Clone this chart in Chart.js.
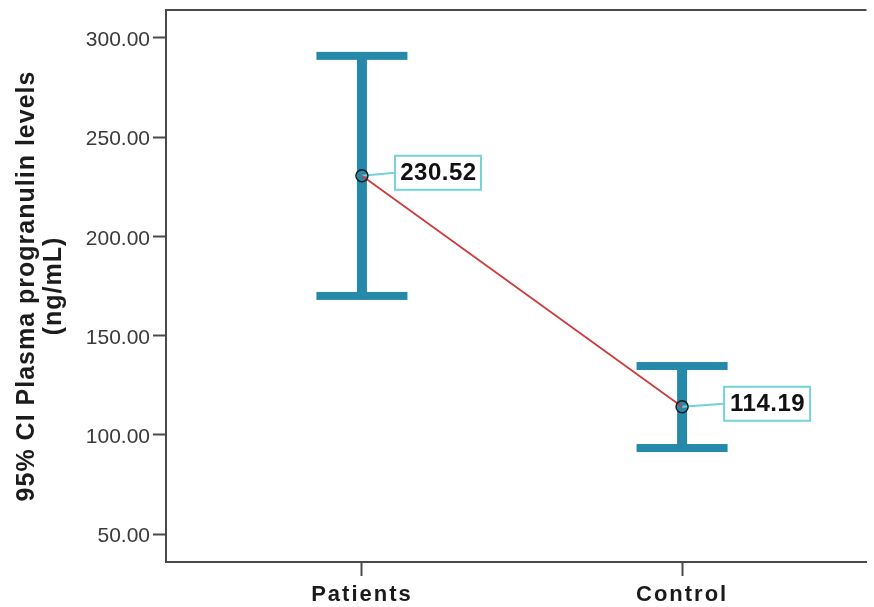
<!DOCTYPE html>
<html><head><meta charset="utf-8">
<script src="https://cdn.jsdelivr.net/npm/chart.js@4.4.1/dist/chart.umd.min.js"></script>
<style>html,body{margin:0;padding:0;background:#fff;}canvas{display:block;}</style>
</head><body>
<canvas id="c" width="874" height="607"></canvas>
<script>
// ---- data ----
const categories = ['Patients', 'Control'];
const categoryPositions = [1, 2];
const means = [230.52, 114.19];
const ciLower = [170.0, 93.4];
const ciUpper = [290.9, 134.7];
const meanLabels = ['230.52', '114.19'];
const yTickValues = [50, 100, 150, 200, 250, 300];
const yAxisTitle = ['95% CI Plasma progranulin levels', '(ng/mL)'];

// ---- style ----
const FONT = '"Liberation Sans", Arial, Helvetica, sans-serif';
const BAR_COLOR = '#2689a9';
const LINE_COLOR = '#cc3b3d';
const AXIS_COLOR = '#4a4a4a';
const LABEL_BORDER = '#74d3d9';
const labelGapPx = [33, 42];

const errorBarPlugin = {
  id: 'errorBars',
  beforeDatasetsDraw(chart) {
    const {ctx, scales: {x, y}, chartArea} = chart;
    ctx.save();
    // top frame line
    ctx.strokeStyle = AXIS_COLOR; ctx.lineWidth = 2;
    ctx.beginPath(); ctx.moveTo(chartArea.left, chartArea.top); ctx.lineTo(chartArea.right, chartArea.top); ctx.stroke();
    ctx.fillStyle = BAR_COLOR;
    categoryPositions.forEach((pos, i) => {
      const px = x.getPixelForValue(pos);
      const top = y.getPixelForValue(ciUpper[i]);
      const bot = y.getPixelForValue(ciLower[i]);
      ctx.fillRect(px - 5, top, 10, bot - top);
      ctx.fillRect(px - 45.5, top - 4, 91, 8);
      ctx.fillRect(px - 45.5, bot - 4, 91, 8);
      // leader line to label box
      const py = y.getPixelForValue(means[i]);
      ctx.strokeStyle = LABEL_BORDER; ctx.lineWidth = 2;
      ctx.beginPath(); ctx.moveTo(px, py); ctx.lineTo(px + labelGapPx[i], py - 3); ctx.stroke();
    });
    ctx.restore();
  },
  afterDatasetsDraw(chart) {
    const {ctx, scales: {x, y}} = chart;
    ctx.save();
    categoryPositions.forEach((pos, i) => {
      const px = x.getPixelForValue(pos), py = y.getPixelForValue(means[i]);
      const bx = px + labelGapPx[i], by = py - 3, w = 86, h = 34;
      ctx.fillStyle = '#fff'; ctx.fillRect(bx, by - h / 2, w, h);
      ctx.strokeStyle = LABEL_BORDER; ctx.lineWidth = 2;
      ctx.strokeRect(bx, by - h / 2, w, h);
      ctx.font = 'bold 24px ' + FONT;
      try { ctx.letterSpacing = '0.5px'; } catch (e) {}
      ctx.fillStyle = '#111'; ctx.textAlign = 'center'; ctx.textBaseline = 'middle';
      ctx.fillText(meanLabels[i], bx + w / 2 + 0.5, by + 1);
    });
    ctx.restore();
  }
};

const spacingPlugin = {
  id: 'spacing',
  afterLayout(chart) {
    const xs = chart.scales.x, ys = chart.scales.y;
    if (xs && !xs._sp) {
      const o = xs.drawLabels;
      xs.drawLabels = function (a) { const c = this.ctx; c.letterSpacing = '2px'; o.call(this, a); c.letterSpacing = '0px'; };
      xs._sp = true;
    }
    if (ys && !ys._sp) {
      const o = ys.drawTitle;
      ys.drawTitle = function (a) { const c = this.ctx; c.letterSpacing = '1px'; o.call(this, a); c.letterSpacing = '0px'; };
      ys._sp = true;
    }
  }
};

new Chart(document.getElementById('c'), {
  type: 'line',
  data: {
    datasets: [{
      data: means.map((m, i) => ({x: categoryPositions[i], y: m})),
      borderColor: LINE_COLOR,
      borderWidth: 1.8,
      pointRadius: 6,
      pointBorderWidth: 1.5,
      pointBorderColor: '#1a1a1a',
      pointBackgroundColor: 'rgba(0,0,0,0)',
      tension: 0
    }]
  },
  options: {
    responsive: false,
    animation: false,
    devicePixelRatio: 1,
    layout: {padding: {top: 10, right: 0, bottom: 0, left: 0}},
    plugins: {legend: {display: false}, tooltip: {enabled: false}},
    scales: {
      x: {
        type: 'linear', min: 0.388, max: 2.576,
        afterBuildTicks: s => { s.ticks = categoryPositions.map(v => ({value: v})); },
        afterFit: s => { s.height = 45; s.paddingLeft = 0; s.paddingRight = 0; },
        grid: {drawOnChartArea: false, drawTicks: true, tickLength: 14, tickColor: AXIS_COLOR, tickWidth: 2},
        border: {display: true, color: AXIS_COLOR, width: 2},
        ticks: {
          callback: v => categories[categoryPositions.indexOf(v)],
          font: {family: FONT, size: 22, weight: 'bold'},
          color: '#1a1a1a', padding: 6, maxRotation: 0, autoSkip: false
        }
      },
      y: {
        type: 'linear', min: 36, max: 314,
        afterBuildTicks: s => { s.ticks = yTickValues.map(v => ({value: v})); },
        afterFit: s => { s.width = 166; s.paddingTop = 0; s.paddingBottom = 0; },
        grid: {drawOnChartArea: false, drawTicks: true, tickLength: 13, tickColor: AXIS_COLOR, tickWidth: 2},
        border: {display: true, color: AXIS_COLOR, width: 2},
        ticks: {
          callback: v => Number(v).toFixed(2),
          font: {family: FONT, size: 21},
          color: '#3a3a3a', padding: 3, labelOffset: 2.5
        },
        title: {
          display: true,
          text: yAxisTitle,
          font: {family: FONT, size: 25, weight: 'bold', lineHeight: '27px'},
          color: '#1c1c1c',
          padding: {top: 14, bottom: 0}
        }
      }
    }
  },
  plugins: [spacingPlugin, errorBarPlugin]
});
</script>
</body></html>
